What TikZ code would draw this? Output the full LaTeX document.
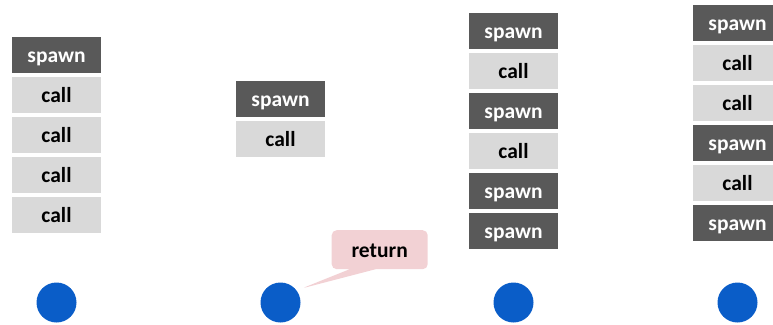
\documentclass[tikz,border=0pt]{standalone}
\usepackage{fontspec}
\setmainfont{Carlito}
\usetikzlibrary{shapes.callouts}

\definecolor{spawngray}{HTML}{595959}
\definecolor{callgray}{HTML}{D9D9D9}
\definecolor{returnpink}{HTML}{F2D1D4}
\definecolor{threadblue}{HTML}{0A5DC8}

\begin{document}
\begin{tikzpicture}[x=1pt,y=-1pt,
  label text/.style={font=\fontsize{21.5}{24}\selectfont\bfseries,
    text height=18pt,text depth=2.6pt},
  frame/.style={label text,minimum width=89pt,minimum height=36pt,inner sep=0pt},
  spawnbox/.style={frame,fill=spawngray,text=white},
  callbox/.style={frame,fill=callgray,text=black},
  thread/.style={circle,fill=threadblue,minimum size=40pt,inner sep=0pt}]

\useasboundingbox (0,0) rectangle (773,324);

% stacks
\foreach \kind [count=\i] in {spawn,call,call,call,call}
  \node[\kind box] (a\i) at (56.5,15+40*\i) {\kind};
\foreach \kind [count=\i] in {spawn,call}
  \node[\kind box] (b\i) at (280.5,59+40*\i) {\kind};
\foreach \kind [count=\i] in {spawn,call,spawn,call,spawn,spawn}
  \node[\kind box] (c\i) at (513.5,-9+40*\i) {\kind};
\foreach \kind [count=\i] in {spawn,call,call,spawn,call,spawn}
  \node[\kind box] (d\i) at (737.5,-17+40*\i) {\kind};

% threads
\node[thread] (t1) at (56.5,302.5) {};
\node[thread] (t2) at (280.5,302.5) {};
\node[thread] (t3) at (513.5,302.5) {};
\node[thread] (t4) at (737.5,302.5) {};

% return bubble
\coordinate (tip) at (301.5,288.5);
\node[rectangle callout,label text,fill=returnpink,rounded corners=5pt,
  minimum width=96pt,minimum height=39pt,inner sep=0pt,
  callout absolute pointer={(tip)},callout pointer width=26pt] (ret) at (379.7,249.7) {return};

\end{tikzpicture}
\end{document}
